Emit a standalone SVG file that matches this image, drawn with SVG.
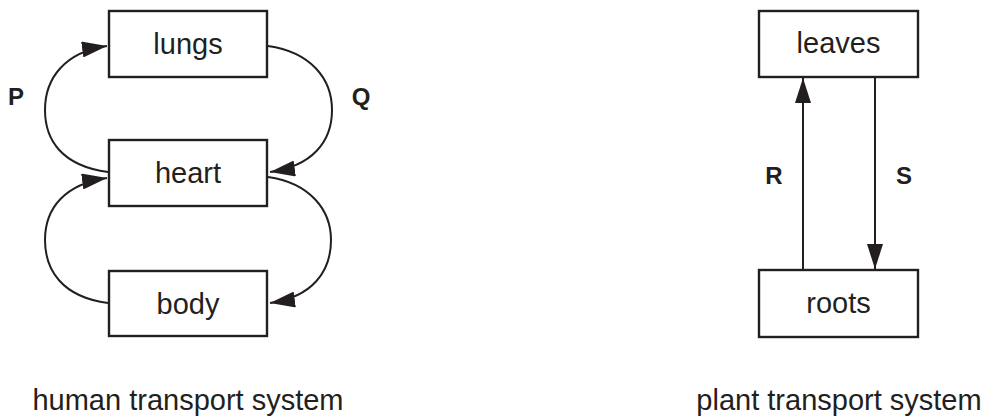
<svg xmlns="http://www.w3.org/2000/svg" width="985" height="418" viewBox="0 0 985 418">
  <style>
    .box { fill: #ffffff; stroke: #231f20; stroke-width: 2.4; }
    .lbl { font-family: "Liberation Sans", Arial, Helvetica, sans-serif; font-size: 29px; fill: #231f20; text-anchor: middle; }
    .key { font-family: "Liberation Sans", Arial, Helvetica, sans-serif; font-size: 24px; font-weight: bold; fill: #231f20; text-anchor: middle; }
    .flow { fill: none; stroke: #231f20; stroke-width: 2; marker-end: url(#head); }
  </style>
  <defs>
    <marker id="head" markerUnits="userSpaceOnUse" markerWidth="26" markerHeight="16" refX="25" refY="8" orient="auto">
      <path d="M0,0 L25,8 L0,16 Z" fill="#231f20"/>
    </marker>
  </defs>

  <rect width="985" height="418" fill="#ffffff"/>

  <!-- connectors -->
  <g id="connectors">
    <path id="flow-P" class="flow" d="M108,172 C 62,166 45,140 45,110 C 45,78 65,52 107,46"/>
    <path id="flow-Q" class="flow" d="M268,46 C 310,52 332,78 332,110 C 332,142 312,166 270,172"/>
    <path id="flow-body-heart" class="flow" d="M108,303 C 62,297 45,270 45,240 C 45,208 65,184 107,178"/>
    <path id="flow-heart-body" class="flow" d="M268,177 C 310,183 331,210 331,240 C 331,272 312,297 270,303"/>
    <path id="flow-R" class="flow" d="M803,270 L803,78"/>
    <path id="flow-S" class="flow" d="M875,78 L875,269"/>
  </g>

  <!-- connector labels -->
  <g id="keys">
    <text class="key" x="16" y="105">P</text>
    <text class="key" x="361" y="105">Q</text>
    <text class="key" x="774" y="184">R</text>
    <text class="key" x="904" y="184">S</text>
  </g>

  <!-- human transport system -->
  <g id="lungs">
    <rect class="box" x="109" y="11" width="158" height="66"/>
    <text class="lbl" x="188" y="54">lungs</text>
  </g>
  <g id="heart">
    <rect class="box" x="109" y="140" width="158" height="66"/>
    <text class="lbl" x="188" y="183">heart</text>
  </g>
  <g id="body">
    <rect class="box" x="109" y="271" width="158" height="65"/>
    <text class="lbl" x="188" y="314">body</text>
  </g>

  <!-- plant transport system -->
  <g id="leaves">
    <rect class="box" x="759" y="11" width="159" height="66"/>
    <text class="lbl" x="838.5" y="53">leaves</text>
  </g>
  <g id="roots">
    <rect class="box" x="759" y="270" width="159" height="67"/>
    <text class="lbl" x="838.5" y="313">roots</text>
  </g>

  <!-- captions -->
  <g id="captions">
    <text class="lbl" x="188" y="410">human transport system</text>
    <text class="lbl" x="839" y="410">plant transport system</text>
  </g>
</svg>
